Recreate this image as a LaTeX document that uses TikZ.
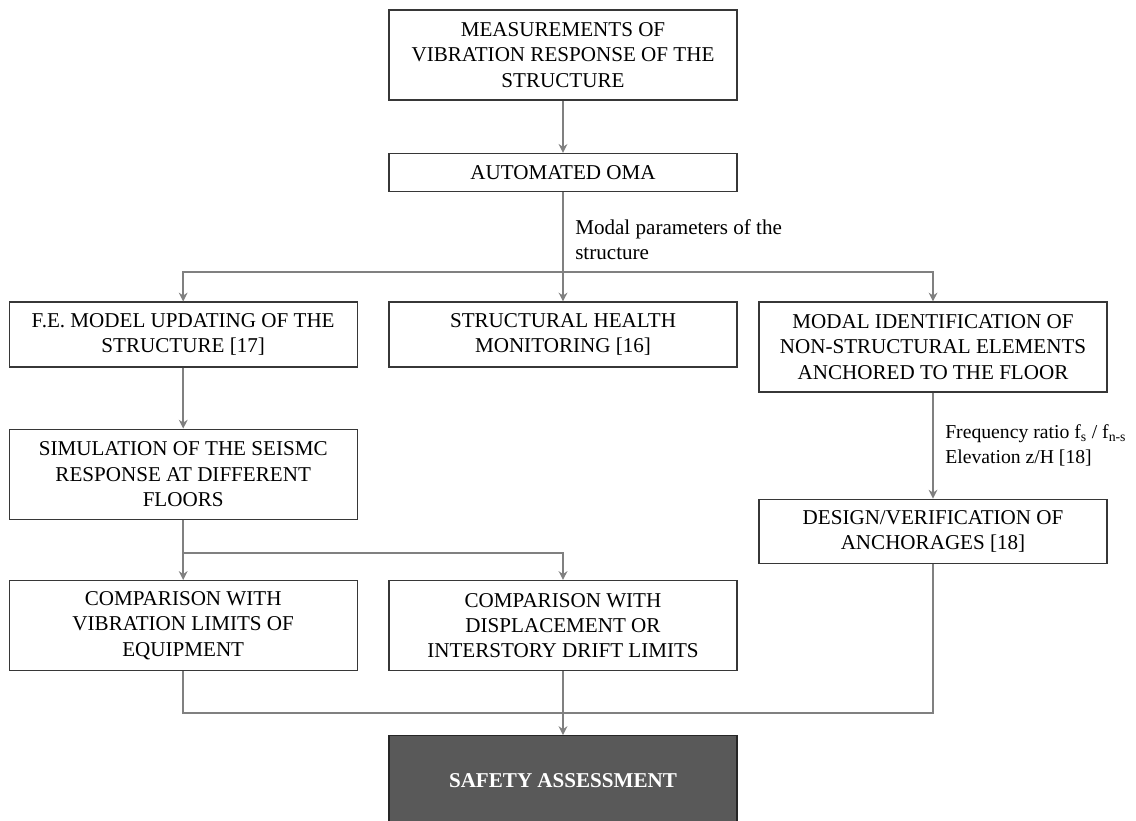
\documentclass[tikz,border=0pt]{standalone}
\usepackage{fontspec}
\setmainfont{Liberation Serif}
\usetikzlibrary{arrows.meta, positioning, calc}
\definecolor{linegray}{RGB}{128, 128, 128}
\definecolor{boxline}{RGB}{55, 55, 55}
\definecolor{darkfill}{RGB}{89, 89, 89}

\begin{document}
\begin{tikzpicture}[
  font=\fontsize{15}{18}\selectfont,
  block/.style={draw=boxline, fill=white, line width=0.8pt, minimum width=8.7cm, minimum height=2.25cm, align=center, inner sep=2pt},
  flow/.style={-{Stealth[length=2.2mm, width=2.2mm]}, linegray, line width=1.4pt},
  link/.style={linegray, line width=1.4pt},
  note/.style={anchor=west, align=left, inner sep=0pt},
]
\useasboundingbox (0,0) rectangle (28.4,-20.525);

% Top chain
\node[block, line width=1.2pt] (meas) at (14.075,-1.375) {MEASUREMENTS OF\\VIBRATION RESPONSE OF THE\\STRUCTURE};
\node[block, minimum height=0.95cm, below=1.3cm of meas] (oma) {AUTOMATED OMA};

% Three branches
\node[block, minimum height=1.625cm] (fem) at (4.58,-8.3625) {F.E. MODEL UPDATING OF THE\\STRUCTURE [17]};
\node[block, minimum height=1.625cm] (shm) at (14.075,-8.3625) {STRUCTURAL HEALTH\\MONITORING [16]};
\node[block] (mid) at (23.325,-8.675) {MODAL IDENTIFICATION OF\\NON-STRUCTURAL ELEMENTS\\ANCHORED TO THE FLOOR};

\node[block, below=1.525cm of fem] (sim) {SIMULATION OF THE SEISMC\\RESPONSE AT DIFFERENT\\FLOORS};
\node[block, minimum height=1.6cm, below=2.65cm of mid] (anch) {DESIGN/VERIFICATION OF\\ANCHORAGES [18]};

\node[block] (cvib) at (4.58,-15.6375) {COMPARISON WITH\\VIBRATION LIMITS OF\\EQUIPMENT};
\node[block] (cdrift) at (14.075,-15.6375) {COMPARISON WITH\\DISPLACEMENT OR\\INTERSTORY DRIFT LIMITS};
\node[block, fill=darkfill, draw=black!85, text=white, font=\fontsize{15}{18}\selectfont\bfseries, below=1.6cm of cdrift] (safe) {SAFETY ASSESSMENT};

% Connectors
\draw[flow] (meas) -- (oma);
\draw[link] (oma.south) -- ++(0,-2) coordinate (split);
\draw[flow] (split) -| (fem.north);
\draw[flow] (split) -- (shm.north);
\draw[flow] (split) -| (mid.north);
\node[note] (mplab) at ($(split)+(0.3,0.8)$) {Modal parameters of the\\structure};

\draw[flow] (fem) -- (sim);
\draw[link] (sim.south) -- ++(0,-0.825) coordinate (split2);
\draw[flow] (split2) -- (cvib.north);
\draw[flow] (split2) -| (cdrift.north);

\draw[flow] (mid) -- (anch);
\node[note, font=\fontsize{14}{18}\selectfont] (frlab) at ($(mid.south)!0.5!(anch.north)+(0.3,0)$) {Frequency ratio f\textsubscript{s} / f\textsubscript{n-s}\\Elevation z/H [18]};

% Merge into the assessment
\coordinate (join) at ($(cdrift.south)+(0,-1.05)$);
\draw[link] (cvib.south) |- (join) -| (anch.south);
\draw[flow] (cdrift) -- (safe);
\end{tikzpicture}
\end{document}
